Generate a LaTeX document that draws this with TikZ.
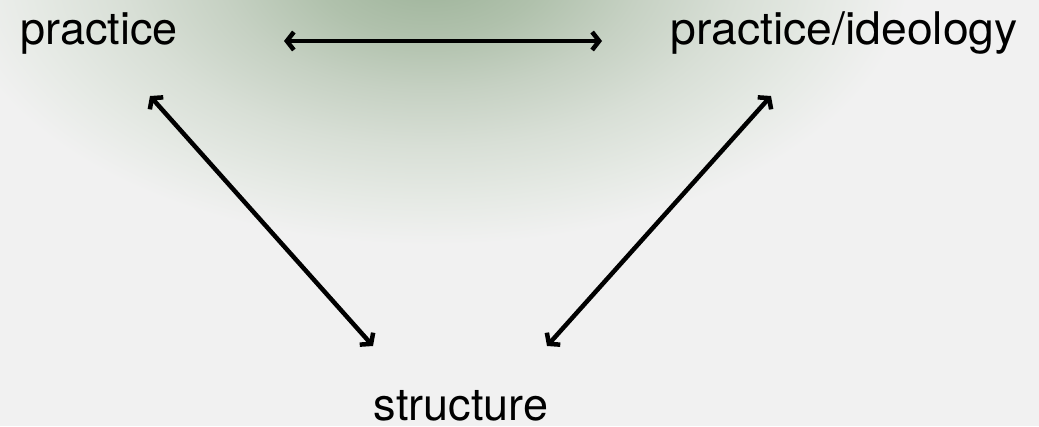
\documentclass[tikz,border=0pt]{standalone}
\usepackage{fontspec}
\setmainfont{TeX Gyre Heros}
\usetikzlibrary{arrows.meta}
\definecolor{bg}{HTML}{F1F1F1}
\definecolor{g0}{HTML}{9CB298}
\definecolor{g1}{HTML}{B0C1AC}
\definecolor{g2}{HTML}{C6D1C3}
\definecolor{g3}{HTML}{D8DFD6}
\definecolor{g4}{HTML}{E6EAE5}
\pgfdeclareradialshading{glow}{\pgfpoint{0bp}{0bp}}{%
  color(0bp)=(g0); color(6bp)=(g1); color(11bp)=(g2);
  color(16bp)=(g3); color(21bp)=(g4); color(25bp)=(bg); color(50bp)=(bg)}
\tikzset{
  label text/.style={font=\fontsize{45}{54}\selectfont, inner sep=0pt, anchor=base},
  twoway/.style={draw=black, line width=4.5pt,
    {Straight Barb[length=7pt,width=18pt]}-{Straight Barb[length=7pt,width=18pt]}}
}
\begin{document}
\begin{tikzpicture}[x=1pt,y=-1pt]
  \useasboundingbox (0,0) rectangle (1039,426);
  \fill[bg] (0,0) rectangle (1039,426);
  \begin{scope}
    \clip (0,0) rectangle (1039,426);
    \shade[shading=glow] (430,-30) ellipse [x radius=480, y radius=275];
  \end{scope}

  % the three terms
  \node[label text] (prac) at (99,44) {practice};
  \node[label text, xscale=1.03] (pracid) at (844,44) {practice/ideology};
  \node[label text] (struct) at (461,420) {structure};

  % arrow end points
  \coordinate (h1) at (284,41);
  \coordinate (h2) at (602,41);
  \coordinate (l1) at (150,96);
  \coordinate (l2) at (373,346);
  \coordinate (r1) at (771,96);
  \coordinate (r2) at (547,346);

  \path[twoway] (h1) -- (h2);
  \path[twoway] (l1) -- (l2);
  \path[twoway] (r1) -- (r2);
\end{tikzpicture}
\end{document}
